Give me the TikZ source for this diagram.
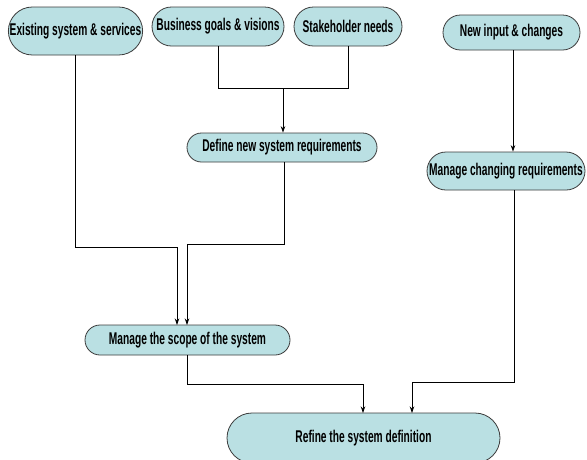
\documentclass[tikz,border=0pt]{standalone}
\usepackage{fontspec}
\newfontfamily\narrowfont{Liberation Sans}[FakeStretch=0.6]
\usetikzlibrary{shapes.misc,arrows.meta}
\definecolor{capfill}{RGB}{186,224,227}
\definecolor{capline}{RGB}{60,60,60}
\tikzset{
  capsule/.style={rounded rectangle, draw=capline, line width=0.8pt, fill=capfill,
    inner sep=0pt, font=\narrowfont\bfseries\fontsize{17}{19}\selectfont, text=black},
  conn/.style={line width=0.8pt, draw=black},
  arr/.style={conn, -{Stealth[length=6.5pt,width=4.5pt]}}
}
\begin{document}
\begin{tikzpicture}[x=1pt,y=-1pt]
\useasboundingbox (0,0) rectangle (587,459);
\fill[white] (0,0) rectangle (587,459);
\clip (0,0) rectangle (587,459);
\node[capsule, minimum width=133pt, minimum height=48pt] (es) at (75.5,31) {Existing system \& services};
\node[capsule, minimum width=132pt, minimum height=39pt] (bg) at (218,26.5) {Business goals \& visions};
\node[capsule, minimum width=108pt, minimum height=39pt] (sn) at (348,26.5) {Stakeholder needs};
\node[capsule, minimum width=137pt, minimum height=35pt] (ni) at (511.5,32.5) {New input \& changes};
\node[capsule, minimum width=158pt, minimum height=38pt] (mc) at (506,171) {Manage changing requirements};
\node[capsule, minimum width=190pt, minimum height=29pt] (dn) at (282,147.5) {Define new system requirements};
\node[capsule, minimum width=205pt, minimum height=30pt] (ms) at (187.5,340) {Manage the scope of the system};
\node[capsule, minimum width=273pt, minimum height=50pt] (rs) at (363.5,438) {Refine the system definition};
\coordinate (j1) at (283,88);
% business + stakeholder -> define
\draw[conn] (bg.south) |- (j1);
\draw[conn] (sn.south) |- (j1);
\draw[arr] (j1) -- (j1 |- dn.north);
% existing -> scope
\draw[arr] (es.south) |- (177,247) -- (177,325);
% define -> scope
\draw[arr] (dn.south -| 284,0) |- (187,244) -- (187,325);
% new input -> manage changing
\draw[arr] (ni.south -| 513,0) -- (mc.north -| 513,0);
% manage changing -> refine
\draw[arr] (mc.south -| 514,0) |- (412,382) -- (412,413);
% scope -> refine
\draw[arr] (ms.south) |- (363,384) -- (363,413);
\end{tikzpicture}
\end{document}
